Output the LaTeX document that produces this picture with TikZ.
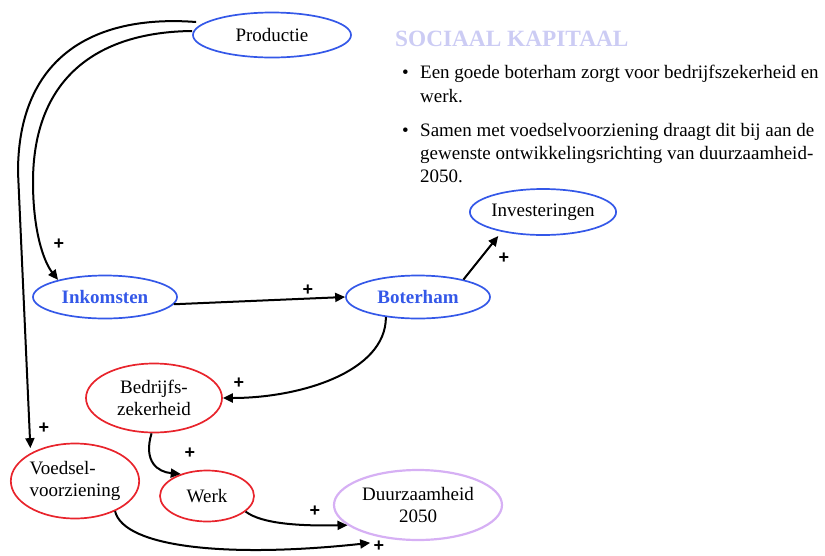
\documentclass[tikz,border=0pt]{standalone}
\usepackage{fontspec}
\setmainfont{Liberation Serif}
\newfontfamily\signfont{Liberation Sans}
\usetikzlibrary{shapes.geometric,arrows.meta}

\definecolor{varblue}{RGB}{52,88,232}
\definecolor{varred}{RGB}{232,36,44}
\definecolor{varlilac}{RGB}{214,176,244}
\definecolor{titlelilac}{RGB}{204,204,244}

\begin{document}
\begin{tikzpicture}[x=1pt,y=-1pt,
  var/.style={ellipse, draw, line width=1.7pt, inner sep=0pt, align=center,
              font=\fontsize{19}{22}\selectfont},
  bluevar/.style={var, draw=varblue},
  redvar/.style={var, draw=varred},
  lilacvar/.style={var, draw=varlilac, line width=2.2pt},
  keyvar/.style={bluevar, text=varblue, font=\bfseries\fontsize{19}{22}\selectfont},
  link/.style={line width=2pt, -{Triangle[length=10pt,width=9pt]}},
  sign/.style={font=\signfont\bfseries\fontsize{18}{18}\selectfont, inner sep=0pt},
  body/.style={anchor=base west, inner sep=0pt, font=\fontsize{19}{22}\selectfont}]
\useasboundingbox (0,0) rectangle (825,555);

% variables of the causal loop diagram
\node[bluevar, minimum width=158pt, minimum height=45pt] (prod) at (272,35) {Productie};
\node[keyvar, minimum width=144pt, minimum height=43pt] (ink) at (105,297) {Inkomsten};
\node[keyvar, minimum width=144pt, minimum height=43pt] (bot) at (418,297) {Boterham};
\node[bluevar, minimum width=143pt, minimum height=46pt] (inv) at (543,212) {Investeringen};
\node[redvar, minimum width=136pt, minimum height=69pt] (bed) at (154,398) {Bedrijfs-\\zekerheid};
\node[redvar, minimum width=126pt, minimum height=75pt, align=left] (voed) at (75,481) {Voedsel-\\voorziening};
\node[redvar, minimum width=94pt, minimum height=51pt] (werk) at (207,496) {Werk};
\node[lilacvar, minimum width=168pt, minimum height=70pt] (duur) at (418,505) {Duurzaamheid\\2050};

% causal links
\draw[link] ([xshift=4pt,yshift=13pt]prod.west) .. controls (90,14) and (18,60) .. (18,172)
  -- ([yshift=5pt]voed.148);
\draw[link] ([yshift=4pt]prod.west) .. controls (95,32) and (33,80) .. (33,182)
  .. controls (33,232) and (44,262) .. (ink.160);
\draw[link] (ink.-6) -- (bot.west);
\draw[link] (bot.21) -- ([yshift=-5pt]inv.203);
\draw[link] (bot.212) .. controls (386,372) and (300,398) .. (bed.east);
\draw[link] (bed.266) .. controls (143,462) and (158,472) .. (werk.140);
\draw[link] (werk.-22) .. controls (262,524) and (300,526) .. (duur.196);
\draw[link] (voed.-37) .. controls (124,548) and (230,558) .. ([yshift=-8pt]duur.212);

% polarity signs
\node[sign] (s1) at (59,244) {+};
\node[sign] (s2) at (44,428) {+};
\node[sign] (s3) at (308,290) {+};
\node[sign] (s4) at (504,258) {+};
\node[sign] (s5) at (239,383) {+};
\node[sign] (s6) at (190,453) {+};
\node[sign] (s7) at (315,511) {+};
\node[sign] (s8) at (379,546) {+};

% heading and bullet text
\node[anchor=base west, inner sep=0pt, text=titlelilac,
      font=\bfseries\fontsize{23.3}{26}\selectfont] (title) at (395,46) {SOCIAAL KAPITAAL};
\node[body] (b1) at (402,78) {\textbullet};
\node[body] (l1) at (420,78) {Een goede boterham zorgt voor bedrijfszekerheid en};
\node[body] (l2) at (420,102) {werk.};
\node[body] (b2) at (402,136) {\textbullet};
\node[body] (l3) at (420,136) {Samen met voedselvoorziening draagt dit bij aan de};
\node[body] (l4) at (420,159) {gewenste ontwikkelingsrichting van duurzaamheid-};
\node[body] (l5) at (420,182) {2050.};
\end{tikzpicture}
\end{document}
